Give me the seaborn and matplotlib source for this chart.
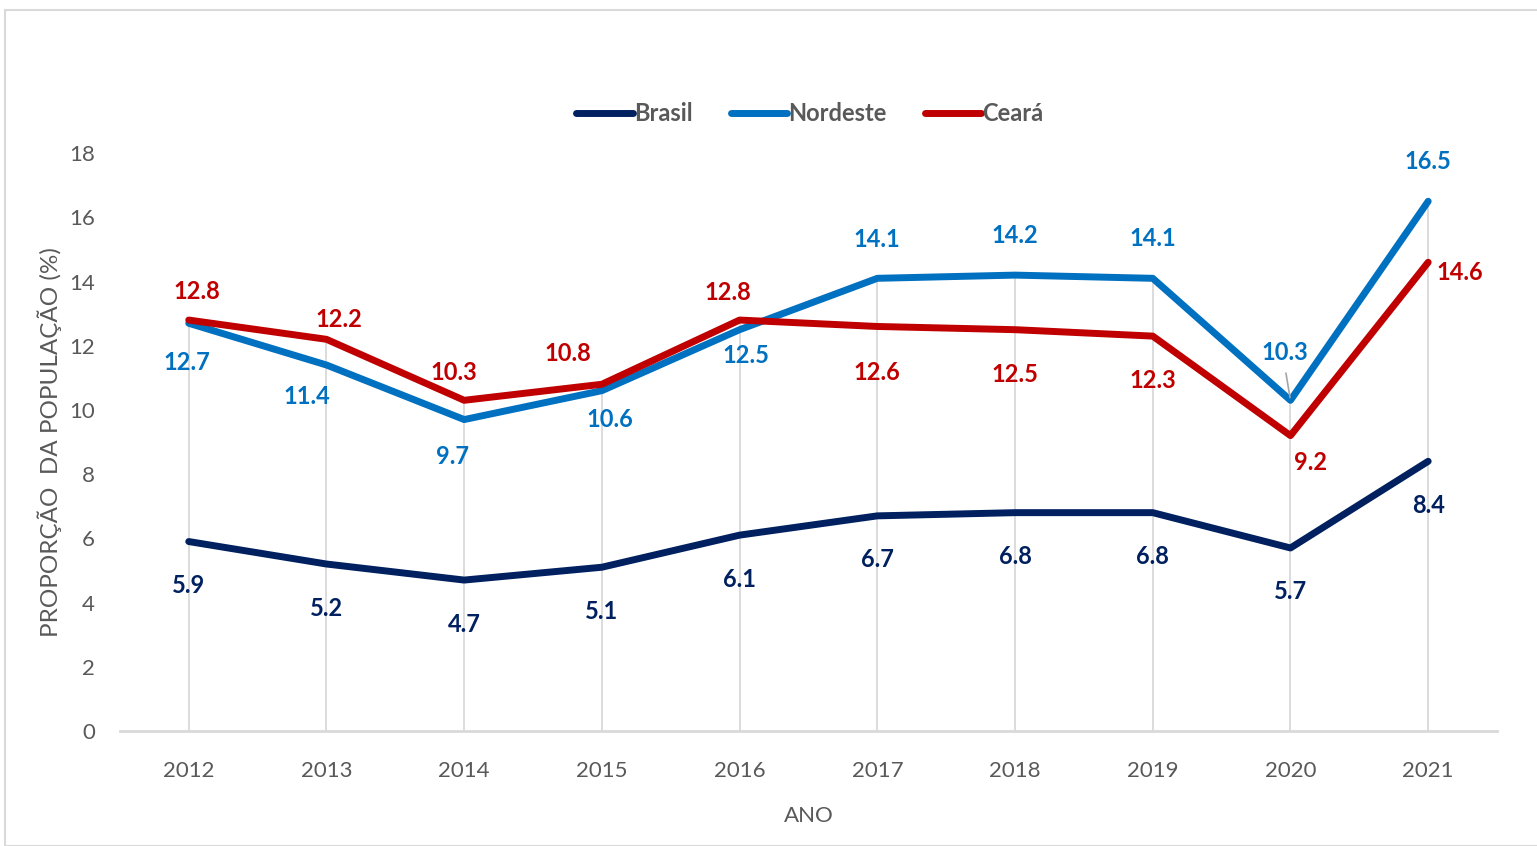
import pandas as pd
import matplotlib.pyplot as plt
from matplotlib.patches import Rectangle
import seaborn as sns

# data
ANOS = [2012, 2013, 2014, 2015, 2016, 2017, 2018, 2019, 2020, 2021]
BRASIL = [5.9, 5.2, 4.7, 5.1, 6.1, 6.7, 6.8, 6.8, 5.7, 8.4]
NORDESTE = [12.7, 11.4, 9.7, 10.6, 12.5, 14.1, 14.2, 14.1, 10.3, 16.5]
CEARA = [12.8, 12.2, 10.3, 10.8, 12.8, 12.6, 12.5, 12.3, 9.2, 14.6]
SERIES = ["Brasil", "Nordeste", "Ceará"]

PALETTE = {"Brasil": "#002060", "Nordeste": "#0070C0", "Ceará": "#C00000"}

# where each data label sits relative to its point (dx, dy in pixels)
LABEL_POS = {
    "Brasil":   [(0, -44), (0, -44), (0, -44), (0, -44), (0, -44),
                 (0, -44), (0, -44), (0, -44), (0, -44), (0, -44)],
    "Nordeste": [(-2, -39), (-20, -32), (-12, -37), (8, -29), (6, -26),
                 (0, 39), (0, 40), (0, 40), (-6, 48), (0, 40)],
    "Ceará":    [(8, 29), (12, 20), (-10, 28), (-34, 31), (-12, 28),
                 (0, -46), (0, -45), (0, -44), (20, -27), (32, -10)],
}

df = pd.DataFrame({"ano": ANOS, "Brasil": BRASIL, "Nordeste": NORDESTE, "Ceará": CEARA})
long = df.melt(id_vars="ano", var_name="serie", value_name="valor")

sns.set_theme(style="white")
plt.rcParams["font.family"] = ["Lato", "DejaVu Sans"]

fig = plt.figure(figsize=(15.37, 8.46), dpi=100)
ax = fig.add_axes([0.078, 0.136, 0.896, 0.683])

# drop lines from the highest series down to the axis
topo = df[SERIES].max(axis=1)
ax.vlines(df["ano"], 0, topo, color="#d9d9d9", linewidth=1.3, zorder=0)

sns.lineplot(data=long, x="ano", y="valor", hue="serie", hue_order=SERIES,
             palette=PALETTE, linewidth=5, ax=ax, legend=False,
             solid_capstyle="round", solid_joinstyle="round")

px = 72 / fig.dpi
for serie in SERIES:
    for ano, val, (dx, dy) in zip(ANOS, df[serie], LABEL_POS[serie]):
        ax.annotate(f"{val:.1f}", (ano, val), xytext=(dx * px, dy * px),
                    textcoords="offset points", ha="center", va="center",
                    fontsize=17, fontweight="bold", color=PALETTE[serie])

# leader line for the 2020 Nordeste label
ax.annotate("", (2020, 10.3), xytext=(-5 * px, 30 * px), textcoords="offset points",
            arrowprops=dict(arrowstyle="-", color="#a6a6a6", lw=1.2))

ax.set_xlim(2011.5, 2021.5)
ax.set_ylim(0, 18)
ax.set_xticks(ANOS)
ax.set_yticks(range(0, 19, 2))
ax.tick_params(axis="both", length=0, labelsize=16, colors="#595959")
ax.tick_params(axis="x", pad=22)
ax.tick_params(axis="y", pad=18)

for side in ["top", "right", "left"]:
    ax.spines[side].set_visible(False)
ax.spines["bottom"].set_color("#d9d9d9")
ax.spines["bottom"].set_linewidth(2)

ax.set_xlabel("ANO", fontsize=16, color="#595959", labelpad=18)
ax.set_ylabel("PROPORÇÃO  DA POPULAÇÃO (%)", fontsize=17.5, color="#595959", labelpad=5)

handles = [plt.Line2D([], [], color=PALETTE[s], linewidth=5, solid_capstyle="round")
           for s in SERIES]
fig.legend(handles, SERIES, loc="center", bbox_to_anchor=(0.527, 0.866), ncol=3,
           frameon=False, handlelength=2.4, handletextpad=0.05,
           columnspacing=1.6, labelcolor="#595959",
           prop={"weight": "bold", "size": 17})

fig.patches.append(Rectangle((0.003, 0.0), 0.999, 0.988, transform=fig.transFigure,
                             fill=False, edgecolor="#d9d9d9", linewidth=1.5))

fig.savefig("out.png", dpi=100)
